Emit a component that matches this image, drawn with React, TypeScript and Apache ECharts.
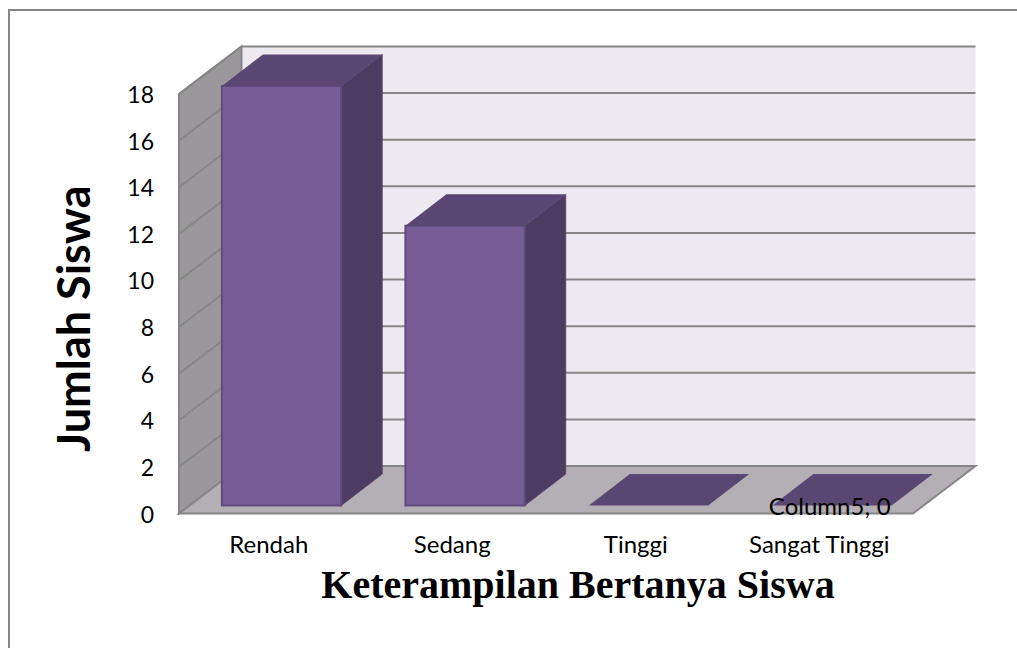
import React, { useEffect, useRef } from "react";
import * as echarts from "echarts";

const categories = ["Rendah", "Sedang", "Tinggi", "Sangat Tinggi"];
const values = [18, 12, 0, 0];
const yTicks = [0, 2, 4, 6, 8, 10, 12, 14, 16, 18];
const xTitle = "Keterampilan Bertanya Siswa";
const yTitle = "Jumlah Siswa";
const labelSeriesName = "Column5";
const labelledIndex = 3;

const WALL_DX = 62.5;
const WALL_DY = -47.5;
const BAR_INSET_X = 10.8;
const BAR_INSET_Y = -8;
const BAR_DX = 41;
const BAR_DY = -31.5;
const BAR_RATIO = 0.65;
const LINE = "#868686";

function poly(points: number[][], fill: string, stroke?: string, lineWidth = 1) {
  return {
    type: "polygon",
    shape: { points },
    style: { fill, stroke: stroke || "none", lineWidth },
  };
}

function renderWalls(params: any) {
  const c = params.coordSys;
  const l = c.x, r = c.x + c.width, t = c.y, b = c.y + c.height;
  return {
    type: "group",
    children: [
      poly([[l + WALL_DX, t + WALL_DY], [r + WALL_DX, t + WALL_DY], [r + WALL_DX, b + WALL_DY], [l + WALL_DX, b + WALL_DY]], "#ece9f1"),
      poly([[l, t], [l + WALL_DX, t + WALL_DY], [l + WALL_DX, b + WALL_DY], [l, b]], "#9a989b", LINE, 2),
      poly([[l, b], [l + WALL_DX, b + WALL_DY], [r + WALL_DX, b + WALL_DY], [r, b]], "#b4afb4", LINE, 2),
    ],
  };
}

function renderGridLine(params: any, api: any) {
  const c = params.coordSys;
  const y = api.coord([0, api.value(0)])[1];
  const l = c.x, r = c.x + c.width;
  return {
    type: "polyline",
    shape: { points: [[l, y], [l + WALL_DX, y + WALL_DY], [r + WALL_DX, y + WALL_DY]] },
    style: { fill: "none", stroke: LINE, lineWidth: 2 },
  };
}

function renderBar(params: any, api: any) {
  const idx = api.value(0);
  const val = api.value(1);
  const center = api.coord([idx, 0]);
  const w = api.size([1, 0])[0] * BAR_RATIO;
  const top = api.coord([idx, val])[1] + BAR_INSET_Y;
  const bottom = center[1] + BAR_INSET_Y;
  const x0 = center[0] + BAR_INSET_X - w / 2;
  const x1 = x0 + w;
  const children: any[] = [];
  if (val > 0) {
    children.push(poly([[x1, top], [x1 + BAR_DX, top + BAR_DY], [x1 + BAR_DX, bottom + BAR_DY], [x1, bottom]], "#4e3b61", "#5a4672"));
    children.push(poly([[x0, top], [x1, top], [x1, bottom], [x0, bottom]], "#785d96", "#5f4a80", 2));
  }
  children.push(poly([[x0, top], [x0 + BAR_DX, top + BAR_DY], [x1 + BAR_DX, top + BAR_DY], [x1, top]], "#5a4673"));
  if (idx === labelledIndex) {
    children.push({
      type: "text",
      z2: 10,
      style: {
        text: `${labelSeriesName}; ${val}`,
        x: x1 - 1,
        y: bottom,
        align: "right",
        verticalAlign: "middle",
        fill: "#000",
        font: "24px Lato",
      },
    });
  }
  return { type: "group", children };
}

export default function App() {
  const ref = useRef<HTMLDivElement>(null);
  useEffect(() => {
    document.body.style.margin = "0";
    const chart = echarts.init(ref.current!, undefined, { renderer: "svg" });
    chart.setOption({
      animation: false,
      backgroundColor: "#fff",
      grid: { left: 179, top: 94, width: 734, height: 419.5 },
      xAxis: {
        type: "category",
        data: categories,
        axisLine: { show: false },
        axisTick: { show: false },
        axisLabel: { color: "#000", fontFamily: "Lato", fontSize: 24, margin: 18, interval: 0, padding: [0, 4, 0, 0] },
        name: xTitle,
        nameLocation: "middle",
        nameGap: 51,
        nameTextStyle: { color: "#000", fontFamily: "Liberation Serif", fontWeight: "bold", fontSize: 40, padding: [0, 0, 0, 64] },
      },
      yAxis: {
        type: "value",
        min: 0,
        max: 18,
        interval: 2,
        splitLine: { show: false },
        axisLine: { show: false },
        axisTick: { show: false },
        axisLabel: { color: "#000", fontFamily: "Lato", fontSize: 23, margin: 25 },
        name: yTitle,
        nameLocation: "middle",
        nameGap: 84,
        nameTextStyle: { color: "#000", fontFamily: "Lato", fontWeight: "bold", fontSize: 45, padding: [0, 30, 0, 0] },
      },
      graphic: [
        {
          type: "polyline",
          shape: { points: [[9, 648], [9, 10], [1017, 10]] },
          style: { fill: "none", stroke: LINE, lineWidth: 2 },
          silent: true,
        },
      ],
      series: [
        { type: "custom", name: "Walls", renderItem: renderWalls, data: [[0]], silent: true, z: 1 },
        { type: "custom", name: "Gridlines", renderItem: renderGridLine, data: yTicks.slice(1).map((t) => [t]), silent: true, z: 2 },
        { type: "custom", name: "Siswa", renderItem: renderBar, data: values.map((v, i) => [i, v]), silent: true, z: 3 },
      ],
    });
    return () => chart.dispose();
  }, []);
  return <div ref={ref} style={{ width: 1017, height: 648, position: "absolute", left: 0, top: 0 }} />;
}
